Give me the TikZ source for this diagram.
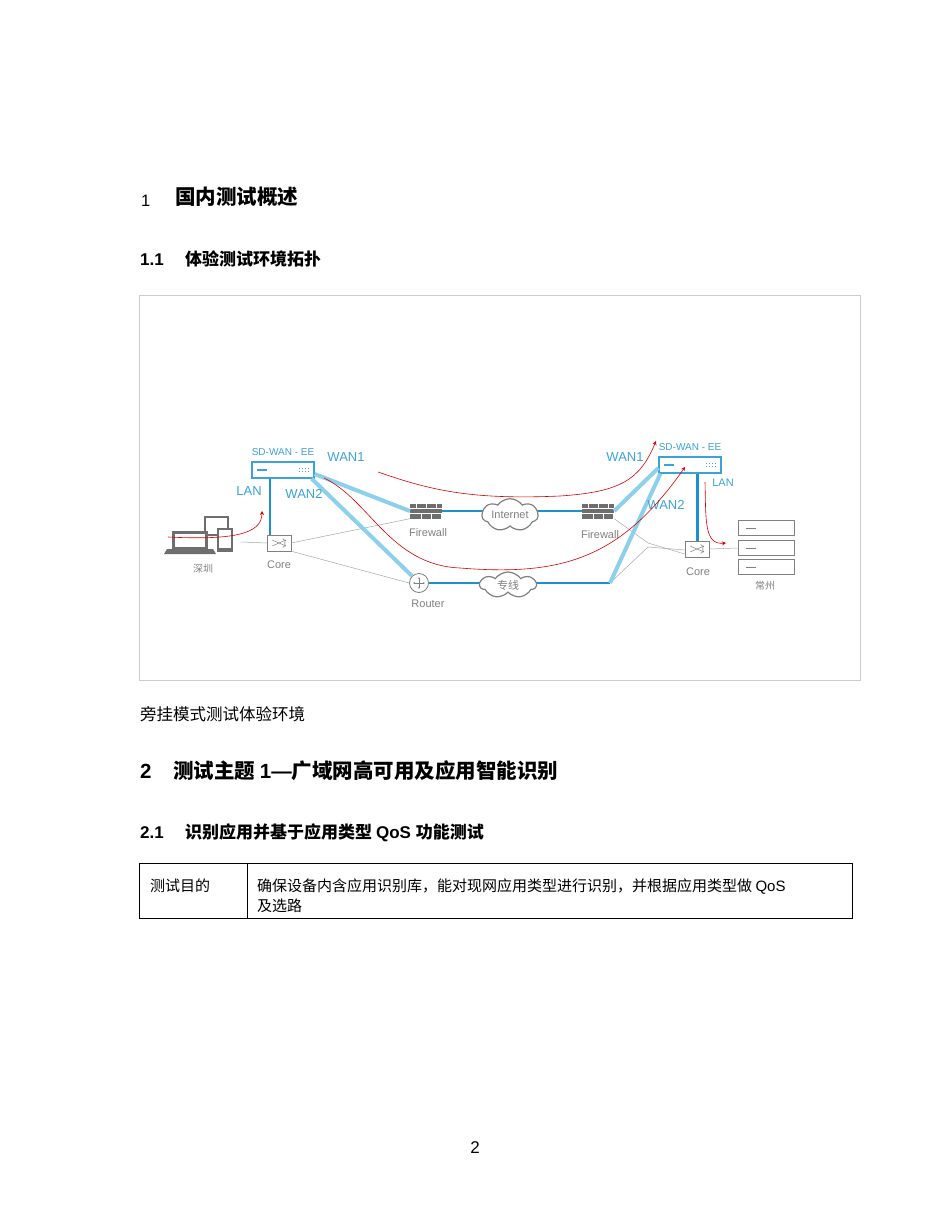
\documentclass[tikz,border=0pt]{standalone}
\usepackage{fontspec}
\setmainfont{Liberation Sans}
\newfontfamily\cjk{Noto Sans CJK SC}
\usetikzlibrary{shapes.symbols,arrows.meta}
\definecolor{lb}{HTML}{8DD0EC}
\definecolor{db}{HTML}{1E90CE}
\definecolor{tb}{HTML}{3BA2DA}
\definecolor{ic}{HTML}{6E6E6E}
\tikzset{
 lbl/.style={text=tb,font=\fontsize{13}{13}\selectfont,inner sep=0},
 dev/.style={text=gray,font=\fontsize{11}{11}\selectfont,inner sep=0},
 thk/.style={lb,line width=4pt},
 thn/.style={gray!70,line width=0.5pt},
 flow/.style={red!85!black,line width=0.6pt},
 arr/.style={flow,-{Stealth[length=4pt,width=4pt]}},
 sdbox/.style={draw=tb,line width=1.3pt,fill=white,minimum width=62pt,minimum height=16pt,inner sep=0},
 sw/.style={draw=gray,fill=white,minimum width=24pt,minimum height=16pt,inner sep=0},
 fw/.style={fill=ic,minimum width=32pt,minimum height=15pt,inner sep=0},
 cl/.style={cloud,draw=gray,line width=1.2pt,fill=white,cloud puffs=7,cloud puff arc=110,aspect=2.3,minimum width=56pt,minimum height=26pt,inner sep=0,text=gray,font=\fontsize{11}{11}\selectfont},
 srv/.style={draw=gray,line width=1pt,fill=white,minimum width=56pt,minimum height=15pt,inner sep=0},
 h1/.style={anchor=base west,inner sep=0,font=\bfseries\fontsize{20.5}{20.5}\selectfont},
 h2/.style={anchor=base west,inner sep=0,font=\bfseries\fontsize{17}{17}\selectfont},
 bt/.style={anchor=base west,inner sep=0,font=\fontsize{16.5}{17}\selectfont},
 tt/.style={anchor=base west,inner sep=0,font=\fontsize{15}{15}\selectfont},
}
\begin{document}
\begin{tikzpicture}[x=1pt,y=-1pt]
\useasboundingbox (0,0) rectangle (950,1230);
% headings
\node[bt] (n1) at (141,207) {1};
\node[h1] (t1) at (175,205) {\cjk\bfseries 国内测试概述};
\node[h2] (n11) at (140,266) {1.1};
\node[h2] (t11) at (185,266) {\cjk\bfseries 体验测试环境拓扑};
\node[draw=gray!40,line width=0.6pt,minimum width=721pt,minimum height=385pt,anchor=north west,inner sep=0] (frame) at (139,295) {};
\node[bt] (cap) at (140,720) {\cjk 旁挂模式测试体验环境};
\node[h1] (n2) at (140,778) {2};
\node[h1] (t2) at (173,778) {\cjk\bfseries 测试主题 \rmfamily\bfseries 1—\cjk\bfseries 广域网高可用及应用智能识别};
\node[h2] (n21) at (140,838) {2.1};
\node[h2] (t21) at (185,838) {\cjk\bfseries 识别应用并基于应用类型 \rmfamily\bfseries QoS \cjk\bfseries 功能测试};
\draw[line width=0.7pt] (139,863) rectangle (852,918);
\draw[line width=0.7pt] (247,863) -- (247,918);
\node[tt] (c1) at (150,891) {\cjk 测试目的};
\node[tt] (c2) at (257,891) {\cjk 确保设备内含应用识别库，能对现网应用类型进行识别，并根据应用类型做 \rmfamily QoS};
\node[tt] (c3) at (257,911) {\cjk 及选路};
\node[inner sep=0,font=\fontsize{17}{17}\selectfont] (pg) at (475,1148) {2};

% --- diagram nodes
\node[sdbox] (L) at (283,470) {};
\draw[tb,line width=1.3pt] (L.west)++(6,0) -- ++(10,0);
\foreach \i in {0,1,2,3}{\fill[tb] ([xshift=-14+\i*3]L.east) ++(-2,-2) rectangle ++(1.6,1.4); \fill[tb] ([xshift=-14+\i*3]L.east) ++(-2,1) rectangle ++(1.6,1.4);}
\node[sdbox] (R) at (690,465) {};
\draw[tb,line width=1.3pt] (R.west)++(6,0) -- ++(10,0);
\foreach \i in {0,1,2,3}{\fill[tb] ([xshift=-14+\i*3]R.east) ++(-2,-2) rectangle ++(1.6,1.4); \fill[tb] ([xshift=-14+\i*3]R.east) ++(-2,1) rectangle ++(1.6,1.4);}
\node[lbl,font=\fontsize{10}{10}\selectfont] (Ll) at (283,452) {SD-WAN - EE};
\node[lbl,font=\fontsize{10}{10}\selectfont] (Rl) at (690,447) {SD-WAN - EE};

\node[sw] (LC) at (279,543) {};
\node[sw] (RC) at (697,549) {};
\foreach \n in {LC,RC}{\draw[gray,line width=0.5pt,->] ([xshift=-7,yshift=-3]\n.center) .. controls (\n.center) .. ([xshift=7,yshift=3]\n.center);
 \draw[gray,line width=0.5pt,->] ([xshift=-7,yshift=3]\n.center) .. controls (\n.center) .. ([xshift=7,yshift=-3]\n.center);}
\node[fw] (F1) at (426,511) {};
\node[fw] (F2) at (598,511) {};
\foreach \n in {F1,F2}{\draw[white,line width=0.8pt] ([yshift=-2.5]\n.west) -- ([yshift=-2.5]\n.east) ([yshift=2.5]\n.west) -- ([yshift=2.5]\n.east);
 \foreach \k in {-10,0,10}{\draw[white,line width=0.8pt] ([xshift=\k]\n.north) -- ++(0,5) ([xshift=\k+5]\n.south) -- ++(0,-5);}}
\node[draw=gray,line width=0.8pt,circle,minimum size=19pt,inner sep=0,fill=white] (RT) at (419,583) {};
\draw[gray,line width=0.5pt,<->,>={Stealth[length=2pt]}] ([xshift=-6]RT.center) -- ([xshift=6]RT.center);
\draw[gray,line width=0.5pt,<->,>={Stealth[length=2pt]}] ([yshift=-6]RT.center) -- ([yshift=6]RT.center);

\node[srv] (S1) at (766,528) {};
\node[srv] (S2) at (766,548) {};
\node[srv] (S3) at (766,567) {};
\foreach \n in {S1,S2,S3}{\draw[gray,line width=1pt] ([xshift=8]\n.west) -- ++(10,0);}

% device icon (pc, laptop, phone)
\coordinate (PC) at (215,545);
\draw[ic,line width=1.2pt] (205,517) rectangle (228,535);
\fill[ic] (172,531) rectangle (208,549);
\fill[white] (175,534) rectangle (205,547);
\fill[ic] (167,549) -- (213,549) -- (216,554) -- (164,554) -- cycle;
\fill[ic] (217,528) rectangle (233,552);
\fill[white] (219,530) rectangle (231,548);

% connectors
\draw[thn] (PC) ++(26,-3) coordinate (pce) -- (LC.west);
\draw[thn] (LC.east) -- (F1.south west);
\draw[thn] (LC.south east) -- (RT.west);
\draw[thn] (F2.south east) -- (648,543) -- ([yshift=-5]RC.west);
\coordinate (J) at (610,583);
\draw[thn] (J) -- (648,547) -- ([yshift=-1]RC.west);
\draw[thn] (RC.east) -- (S2.west);

\draw[thk] ([yshift=-4]L.east) -- (F1.west);
\draw[thk] ([xshift=-3]L.south east) -- (RT.north west);
\draw[db,line width=1.8pt] (F1.east) -- (F2.west);
\draw[db,line width=1.8pt] (RT.east) -- (J);
\draw[thk] (F2.east) -- ([yshift=-3]R.west);
\draw[thk] (J) -- ([xshift=2]R.south west);
\draw[db,line width=1.5pt] ([xshift=-13]L.south) -- ([xshift=-9]LC.north);
\draw[db,line width=3pt] ([xshift=7]R.south) -- ([xshift=0]RC.north);

\node[cl] (I) at (510,515) {Internet};
\node[cl] (Z) at (508,585) {\cjk 专线};

% labels
\node[lbl] (w1) at (346,457) {WAN1};
\node[lbl] (w2) at (304,494) {WAN2};
\node[lbl] (la) at (249,491) {LAN};
\node[lbl] (rw1) at (625,457) {WAN1};
\node[lbl] (rw2) at (666,505) {WAN2};
\node[lbl,font=\fontsize{11}{11}\selectfont] (rla) at (723,483) {LAN};
\node[dev] (dl) at (428,533) {Firewall};
\node[dev] (dr) at (600,535) {Firewall};
\node[dev] (cl1) at (279,565) {Core};
\node[dev] (cr1) at (698,572) {Core};
\node[dev] (rtl) at (428,604) {Router};
\node[dev,font=\cjk\fontsize{10}{10}\selectfont] (sz) at (203,569) {深圳};
\node[dev,font=\cjk\fontsize{10}{10}\selectfont] (cz) at (765,586) {常州};

% flows
\coordinate (f1a) at (168,537); \coordinate (f1b) at (262,511);
\draw[arr] (f1a) .. controls (230,540) and (262,535) .. (f1b);
\coordinate (f2a) at (378,472); \coordinate (f2b) at (656,441);
\draw[arr] (f2a) .. controls (430,490) and (470,500) .. (560,496) .. controls (620,492) and (640,480) .. (f2b);
\coordinate (f3a) at (324,478); \coordinate (f3b) at (685,467);
\draw[arr] (f3a) .. controls (370,500) and (390,565) .. (460,568) .. controls (560,576) and (620,560) .. (f3b);
\coordinate (f4a) at (705,482); \coordinate (f4b) at (726,543);
\draw[arr] (f4a) .. controls (706,520) and (704,545) .. (f4b);
\end{tikzpicture}
\end{document}
